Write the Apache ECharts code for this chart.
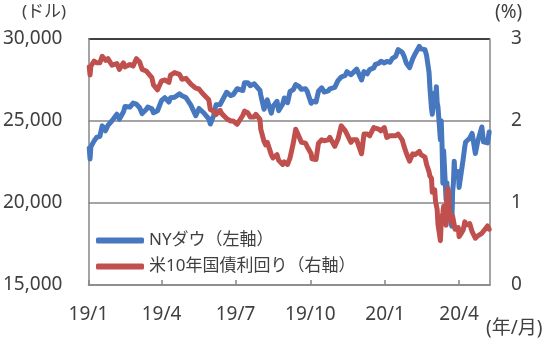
<!DOCTYPE html>
<html>
<head>
<meta charset="utf-8">
<script src="https://cdn.jsdelivr.net/npm/echarts@6/dist/echarts.min.js"></script>
<style>
html,body{margin:0;padding:0;background:#fff;}
#chart{width:550px;height:342px;}
</style>
</head>
<body>
<div id="chart"></div>
<script>
// ---- data ----
const dates = [
 '2019-01-02','2019-01-03','2019-01-04','2019-01-08','2019-01-11','2019-01-15','2019-01-18','2019-01-22','2019-01-25','2019-01-30',
 '2019-02-01','2019-02-05','2019-02-08','2019-02-13','2019-02-15','2019-02-21','2019-02-25',
 '2019-03-01','2019-03-05','2019-03-08','2019-03-13','2019-03-15','2019-03-20','2019-03-22','2019-03-27',
 '2019-04-01','2019-04-05','2019-04-10','2019-04-12','2019-04-17','2019-04-23','2019-04-26',
 '2019-05-01','2019-05-03','2019-05-07','2019-05-13','2019-05-17','2019-05-23','2019-05-29','2019-05-31',
 '2019-06-04','2019-06-07','2019-06-12','2019-06-14','2019-06-20','2019-06-25','2019-06-28',
 '2019-07-03','2019-07-10','2019-07-12','2019-07-16','2019-07-19','2019-07-24','2019-07-26','2019-07-31',
 '2019-08-01','2019-08-05','2019-08-07','2019-08-09','2019-08-14','2019-08-16','2019-08-21','2019-08-23','2019-08-28','2019-08-30',
 '2019-09-03','2019-09-06','2019-09-10','2019-09-13','2019-09-17','2019-09-20','2019-09-25','2019-09-27',
 '2019-10-02','2019-10-03','2019-10-08','2019-10-11','2019-10-15','2019-10-18','2019-10-23','2019-10-25','2019-10-31',
 '2019-11-04','2019-11-08','2019-11-13','2019-11-15','2019-11-20','2019-11-22','2019-11-27',
 '2019-12-03','2019-12-06','2019-12-10','2019-12-13','2019-12-18','2019-12-20','2019-12-24','2019-12-27','2019-12-31',
 '2020-01-03','2020-01-07','2020-01-10','2020-01-14','2020-01-17','2020-01-22','2020-01-24','2020-01-27','2020-01-31',
 '2020-02-04','2020-02-07','2020-02-12','2020-02-14','2020-02-19','2020-02-21','2020-02-24','2020-02-25','2020-02-27','2020-02-28',
 '2020-03-02','2020-03-03','2020-03-04','2020-03-05','2020-03-06','2020-03-09','2020-03-10','2020-03-11','2020-03-12','2020-03-13',
 '2020-03-16','2020-03-17','2020-03-18','2020-03-19','2020-03-20','2020-03-23','2020-03-24','2020-03-25','2020-03-26','2020-03-27','2020-03-31',
 '2020-04-01','2020-04-03','2020-04-06','2020-04-08','2020-04-09','2020-04-14','2020-04-17','2020-04-21','2020-04-24','2020-04-29',
 '2020-05-01','2020-05-06','2020-05-08'
];
const dowValues = [
 23346,22686,23433,23787,23996,24065,24706,24404,24737,25014,
 25064,25411,25106,25543,25883,25850,26091,
 26026,25806,25450,25702,25849,25745,25502,25626,
 26258,26425,26157,26412,26450,26656,26543,
 26430,26505,25965,25324,25764,25490,25126,24815,
 25332,25984,26005,26090,26753,26549,26600,
 26966,26860,27332,27335,27154,27269,27192,26864,
 26583,25718,26008,26287,25479,25886,26202,25629,26036,26403,
 26118,26797,26909,27220,27111,26935,26970,26820,
 26079,26201,26164,26817,27024,26770,26833,26958,27046,
 27462,27681,27784,28005,27821,27876,28164,
 27503,28015,27881,28135,28240,28455,28516,28645,28538,
 28634,28584,28823,28940,29348,29186,28990,28535,28256,
 28808,29103,29551,29398,29348,28992,27961,27081,25767,25409,
 26703,25917,27091,26121,25865,23851,25018,23553,21200,23186,
 20189,21237,19899,20087,19174,18592,20705,21201,22552,21637,21917,
 20944,21053,22680,23434,23720,23950,24242,23019,23775,24634,
 23724,23664,24331
];
const yieldValues = [
 2.66,2.56,2.67,2.73,2.71,2.71,2.79,2.74,2.76,2.68,
 2.69,2.70,2.63,2.71,2.66,2.69,2.67,
 2.76,2.72,2.63,2.61,2.59,2.53,2.44,2.38,
 2.49,2.50,2.47,2.56,2.59,2.57,2.51,
 2.52,2.53,2.45,2.40,2.39,2.32,2.26,2.14,
 2.12,2.08,2.13,2.09,2.03,2.00,2.00,
 1.96,2.07,2.12,2.10,2.05,2.05,2.08,2.02,
 1.90,1.75,1.71,1.74,1.59,1.55,1.59,1.52,1.47,1.50,
 1.47,1.55,1.73,1.90,1.81,1.74,1.73,1.69,
 1.60,1.54,1.53,1.73,1.77,1.76,1.77,1.80,1.69,
 1.78,1.94,1.88,1.84,1.74,1.77,1.77,
 1.60,1.84,1.84,1.82,1.92,1.92,1.90,1.88,1.92,
 1.80,1.82,1.82,1.82,1.84,1.77,1.70,1.61,1.51,
 1.60,1.59,1.63,1.59,1.56,1.47,1.38,1.33,1.30,1.13,
 1.16,1.02,1.00,0.92,0.74,0.54,0.76,0.82,0.88,0.96,
 0.73,1.08,1.18,1.12,0.92,0.76,0.84,0.86,0.83,0.68,0.70,
 0.59,0.62,0.67,0.77,0.73,0.75,0.65,0.57,0.60,0.63,
 0.64,0.72,0.68
];
const seriesNames = ['NYダウ（左軸）', '米10年国債利回り（右軸）'];
const xTickMonths = [[2019,1],[2019,4],[2019,7],[2019,10],[2020,1],[2020,4]];
const leftRange = [15000, 30000, 5000];
const rightRange = [0, 3, 1];

// ---- chart ----
const FONT = '"Noto Sans", "Noto Sans CJK JP", sans-serif';
const TXT = '#404040';
const toTime = s => { const p = s.split('-').map(Number); return new Date(p[0], p[1] - 1, p[2]).getTime(); };
const xMin = new Date(2019, 0, 1).getTime();
const xMax = new Date(2020, 4, 9).getTime();
const xTicks = xTickMonths.map(([y, m]) => new Date(y, m - 1, 1).getTime());

const chart = echarts.init(document.getElementById('chart'), null, {renderer: 'canvas'});
chart.setOption({
  animation: false,
  textStyle: {fontFamily: FONT},
  grid: {left: 88, right: 60, top: 39, bottom: 57, containLabel: false},
  legend: {
    orient: 'vertical', left: 96, top: 232, padding: 0,
    itemWidth: 48, itemHeight: 6, itemGap: 9, icon: 'roundRect',
    textStyle: {fontSize: 17, color: TXT, fontFamily: FONT, lineHeight: 17},
    data: seriesNames
  },
  xAxis: {
    type: 'value', min: xMin, max: xMax,
    axisLine: {show: true, lineStyle: {color: '#868686', width: 1.5}},
    axisTick: {show: true, inside: true, length: 5, customValues: xTicks, lineStyle: {color: '#868686', width: 1.5}},
    axisLabel: {
      customValues: xTicks, margin: 20, fontSize: 19, color: TXT, fontFamily: FONT,
      formatter: v => { const d = new Date(v); return (d.getFullYear() % 100) + '/' + (d.getMonth() + 1); }
    },
    splitLine: {show: false}
  },
  yAxis: [{
    type: 'value', min: leftRange[0], max: leftRange[1], interval: leftRange[2],
    axisLine: {show: true, lineStyle: {color: '#868686', width: 1.5}},
    axisTick: {show: false},
    axisLabel: {margin: 26, fontSize: 19, color: TXT, fontFamily: FONT,
      formatter: v => v.toLocaleString('en-US')},
    splitLine: {show: true, lineStyle: {color: ['#868686', '#868686', '#868686', '#000000'], width: 1.5}}
  }, {
    type: 'value', min: rightRange[0], max: rightRange[1], interval: rightRange[2],
    position: 'right',
    axisLine: {show: true, lineStyle: {color: '#868686', width: 1.5}},
    axisTick: {show: false},
    axisLabel: {margin: 21, fontSize: 19, color: TXT, fontFamily: FONT},
    splitLine: {show: false}
  }],
  graphic: [
    {type: 'text', left: 22, top: 4, style: {text: '(ドル)', fontSize: 17, fill: TXT, fontFamily: FONT}},
    {type: 'text', left: 495, top: 3, style: {text: '(%)', fontSize: 19, fill: TXT, fontFamily: FONT}},
    {type: 'text', left: 486, top: 319, style: {text: '(年/月)', fontSize: 19, fill: TXT, fontFamily: FONT}}
  ],
  series: [{
    name: seriesNames[0], type: 'line', yAxisIndex: 0, showSymbol: false, symbol: 'none',
    lineStyle: {width: 5, color: '#4677BF', join: 'round', cap: 'round'},
    itemStyle: {color: '#4677BF'},
    data: dates.map((d, i) => [toTime(d), dowValues[i]])
  }, {
    name: seriesNames[1], type: 'line', yAxisIndex: 1, showSymbol: false, symbol: 'none',
    lineStyle: {width: 5, color: '#C0504D', join: 'round', cap: 'round'},
    itemStyle: {color: '#C0504D'},
    data: dates.map((d, i) => [toTime(d), yieldValues[i]])
  }]
});
</script>
</body>
</html>
